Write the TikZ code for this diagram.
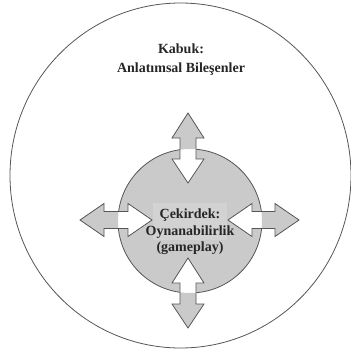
\documentclass[tikz,border=0pt]{standalone}
\usepackage{fontspec}
\setmainfont{Liberation Serif}
\definecolor{coregray}{HTML}{CACACA}
\definecolor{boxgray}{HTML}{D2D2D2}
\definecolor{edge}{HTML}{555555}
\tikzset{
  lbl/.style={font=\bfseries\fontsize{14}{16.5}\selectfont, text=black!85, align=center, inner sep=1pt},
  outline/.style={draw=edge, line width=0.8pt, line join=miter},
}
\newcommand{\varrow}[3]{% x, ytop, ybottom
  (#1,#2) -- ++(16,25) -- ++(-8,0) -- (#1+8,#3-24) -- ++(8,0) -- (#1,#3) -- ++(-16,-24) -- ++(8,0) -- (#1-8,#2+25) -- ++(-8,0) -- cycle}
\newcommand{\harrow}[3]{% y, xleft, xright
  (#2,#1) -- ++(24,-16.5) -- ++(0,8) -- (#3-24,#1-8.5) -- ++(0,-8) -- (#3,#1) -- ++(-24,16.5) -- ++(0,-8) -- (#2+24,#1+8.5) -- ++(0,8) -- cycle}
\begin{document}
\begin{tikzpicture}[x=1pt,y=-1pt]
\useasboundingbox (0,0) rectangle (351,354);
% outer shell
\draw[edge, line width=0.8pt] (180.5,175.5) ellipse [x radius=170.5, y radius=172.5];
% core circle
\coordinate (c) at (190,221);
\filldraw[fill=coregray, draw=edge, line width=0.8pt] (c) circle (72);
% faint box behind the core text
\fill[boxgray] (153,203) rectangle (227,240);
% arrows: white everywhere, then gray outside the core
\fill[white] \varrow{188}{113}{183} \varrow{188}{258}{328} \harrow{220}{80}{152} \harrow{220}{228}{299};
\begin{scope}[even odd rule]
  \clip (0,0) rectangle (351,354) (c) circle (72);
  \fill[coregray] \varrow{188}{113}{183} \varrow{188}{258}{328} \harrow{220}{80}{152} \harrow{220}{228}{299};
\end{scope}
\draw[outline] \varrow{188}{113}{183} \varrow{188}{258}{328} \harrow{220}{80}{152} \harrow{220}{228}{299};
% texts
\node[lbl, font=\bfseries\fontsize{14}{19}\selectfont] (shell) at (181,60) {Kabuk:\\Anlatımsal Bileşenler};
\node[lbl] (core) at (190,232) {Çekirdek:\\Oynanabilirlik\\(gameplay)};
\end{tikzpicture}
\end{document}
